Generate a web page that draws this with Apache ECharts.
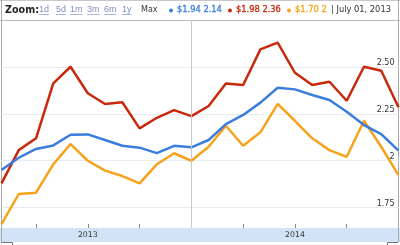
<!DOCTYPE html>
<html><head><meta charset="utf-8">
<script src="https://cdn.jsdelivr.net/npm/echarts@6/dist/echarts.min.js"></script>
<style>html,body{margin:0;padding:0;background:#fff}#c{width:400px;height:245px}</style>
</head><body><div id="c"></div>
<script>
var months = ['2013-02','2013-03','2013-04','2013-05','2013-06','2013-07','2013-08','2013-09','2013-10','2013-11','2013-12','2014-01','2014-02','2014-03','2014-04','2014-05','2014-06','2014-07','2014-08','2014-09','2014-10','2014-11','2014-12','2015-01'];
var blueVals = [1.95,2.016,2.063,2.082,2.139,2.141,2.111,2.080,2.070,2.041,2.080,2.072,2.111,2.196,2.245,2.311,2.391,2.382,2.352,2.325,2.262,2.191,2.143,2.054];
var redVals = [1.879,2.057,2.12,2.414,2.503,2.361,2.304,2.313,2.173,2.23,2.271,2.239,2.293,2.414,2.405,2.596,2.632,2.471,2.405,2.423,2.321,2.503,2.482,2.286];
var orangeVals = [1.661,1.822,1.829,1.981,2.089,2.0,1.947,1.918,1.879,1.981,2.04,2.0,2.075,2.187,2.080,2.152,2.304,2.214,2.12,2.057,2.021,2.214,2.075,1.923];
var yTicks = [1.75, 2, 2.25, 2.5];
var quarterTicks = ['2013-04','2013-07','2013-10','2014-01','2014-04','2014-07','2014-10'];
var yearLabels = ['2013','2014'];
var yearCenters = ['2013-07','2014-07'];
var yearBoundary = '2014-01';
var zoomLinks = ['1d','5d','1m','3m','6m','1y'];
var legendTexts = ['$1.94 2.14','$1.98 2.36','$1.70 2'];
var dateText = '| July 01, 2013';

var BLUE = '#3b7ddd', RED = '#c8290a', ORANGE = '#f7a21b';
// month index: Jan 2013 = 0
function mi(s){ var p = s.split('-'); return (+p[0] - 2013) * 12 + (+p[1] - 1); }
function pairs(vals){ return vals.map(function(v,i){ return [mi(months[i]), v]; }); }
var xMin = mi(months[0]), xMax = mi(months[months.length-1]);
var FONT = '"DejaVu Sans", Verdana, sans-serif';
var mctx = document.createElement('canvas').getContext('2d');
function tw(t, f){ mctx.font = f; return mctx.measureText(t).width; }

var chart = echarts.init(document.getElementById('c'), null, {renderer:'canvas'});
var linkX = [39, 56, 70, 87, 104, 122];
var LINKFONT = '9px "Liberation Sans", Arial, sans-serif';
var graphic = [
  {type:'rect', z:-10, shape:{x:0, y:228, width:400, height:14}, style:{fill:'#d3e3f7'}, silent:true},
  {type:'line', shape:{x1:0, y1:0.5, x2:400, y2:0.5}, style:{stroke:'#c8c8c8', lineWidth:1}},
  {type:'line', shape:{x1:0, y1:20.5, x2:400, y2:20.5}, style:{stroke:'#bdbdbd', lineWidth:1}},
  {type:'line', shape:{x1:1.5, y1:0, x2:1.5, y2:242}, style:{stroke:'#a9a9a9', lineWidth:1}},
  {type:'line', shape:{x1:398.5, y1:0, x2:398.5, y2:242}, style:{stroke:'#a9a9a9', lineWidth:1}},
  {type:'polyline', shape:{points:[[1,242.5],[12.5,242.5],[12.5,245]]}, style:{stroke:'#777', fill:null, lineWidth:1}},
  {type:'polyline', shape:{points:[[398,242.5],[387.5,242.5],[387.5,245]]}, style:{stroke:'#777', fill:null, lineWidth:1}},
  {type:'text', x:5, y:10, style:{text:'Zoom:', font:'bold 9.6px ' + FONT, fill:'#222', verticalAlign:'middle'}}
];
zoomLinks.forEach(function(t,i){
  graphic.push({type:'text', x:linkX[i], y:10, style:{text:t, font:LINKFONT, fill:'#7f8fc4', verticalAlign:'middle'}});
  graphic.push({type:'line', shape:{x1:linkX[i], y1:14.5, x2:linkX[i] + tw(t, LINKFONT), y2:14.5}, style:{stroke:'#aab4da', lineWidth:1}});
});
graphic.push({type:'text', x:141, y:10, style:{text:'Max', font:'8px ' + FONT, fill:'#333', verticalAlign:'middle'}});
var legX = [171, 230, 289], legCol = [BLUE, RED, ORANGE];
legendTexts.forEach(function(t,i){
  graphic.push({type:'circle', shape:{cx:legX[i], cy:10.5, r:2}, style:{fill:legCol[i]}});
  graphic.push({type:'text', x:legX[i]+6, y:10, style:{text:t, font:'8.3px ' + FONT, fill:legCol[i], stroke:legCol[i], lineWidth:0.3, verticalAlign:'middle'}});
});
graphic.push({type:'text', x:331, y:10, style:{text:dateText, font:'8.3px ' + FONT, fill:'#333', verticalAlign:'middle'}});

var option = {
  animation:false,
  backgroundColor:'#fff',
  grid:{left:1.5, right:1.5, top:21, bottom:17, containLabel:false},
  xAxis:[{
    type:'value', min:xMin, max:xMax, position:'bottom',
    axisLine:{show:false},
    axisTick:{show:true, inside:true, length:4, lineStyle:{color:'#888'}, customValues:quarterTicks.map(mi)},
    axisLabel:{show:false}, splitLine:{show:false}
  },{
    type:'value', min:xMin, max:xMax, position:'bottom',
    axisLine:{show:false}, axisTick:{show:false}, splitLine:{show:false},
    axisLabel:{show:true, margin:3, fontSize:7.8, fontFamily:FONT, color:'#333',
      customValues:yearCenters.map(mi),
      formatter:function(v){ return yearLabels[yearCenters.map(mi).indexOf(v)]; }}
  }],
  yAxis:{
    type:'value', min:1.640, max:2.748, position:'right',
    axisLine:{show:false},
    axisTick:{show:false, customValues:yTicks},
    splitLine:{show:true, lineStyle:{color:'#e6eaf1', width:1}},
    axisLabel:{show:true, inside:true, customValues:yTicks, fontSize:8, fontFamily:FONT, color:'#333',
      verticalAlign:'bottom', margin:4,
      formatter:function(v){ return v===2 ? '2' : v.toFixed(2); }}
  },
  graphic:graphic,
  series:[
    {type:'line', data:pairs(orangeVals), showSymbol:false, lineStyle:{color:ORANGE, width:2.5}, itemStyle:{color:ORANGE}, z:2},
    {type:'line', data:pairs(redVals), showSymbol:false, lineStyle:{color:RED, width:2.5}, itemStyle:{color:RED}, z:3},
    {type:'line', data:pairs(blueVals), showSymbol:false, lineStyle:{color:BLUE, width:2.5}, itemStyle:{color:BLUE}, z:4,
      markLine:{silent:true, symbol:['none','none'], label:{show:false}, lineStyle:{color:'#c9c9c9', type:'solid', width:1}, data:[{xAxis:mi(yearBoundary)}]}}
  ]
};
chart.setOption(option);
</script></body></html>
